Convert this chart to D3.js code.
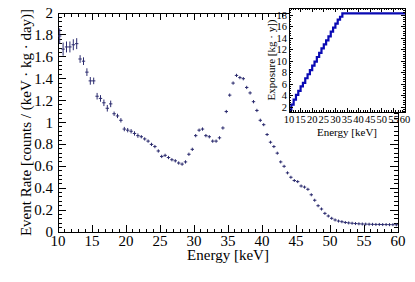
<!DOCTYPE html>
<html><head><meta charset="utf-8">
<script src="https://cdn.jsdelivr.net/npm/d3@7"></script>
<style>body{margin:0;background:#fff}svg{display:block}text{font-family:"Liberation Serif","Times New Roman",serif;fill:#000}</style>
</head><body><svg id="c" width="415" height="282"></svg>
<script>
// ---- main spectrum: 0.5 keV bins ----
const energy = [10.25,10.75,11.25,11.75,12.25,12.75,13.25,13.75,14.25,14.75,
15.25,15.75,16.25,16.75,17.25,17.75,18.25,18.75,19.25,19.75,
20.25,20.75,21.25,21.75,22.25,22.75,23.25,23.75,24.25,24.75,
25.25,25.75,26.25,26.75,27.25,27.75,28.25,28.75,29.25,29.75,
30.25,30.75,31.25,31.75,32.25,32.75,33.25,33.75,34.25,34.75,
35.25,35.75,36.25,36.75,37.25,37.75,38.25,38.75,39.25,39.75,
40.25,40.75,41.25,41.75,42.25,42.75,43.25,43.75,44.25,44.75,
45.25,45.75,46.25,46.75,47.25,47.75,48.25,48.75,49.25,49.75,
50.25,50.75,51.25,51.75,52.25,52.75,53.25,53.75,54.25,54.75,
55.25,55.75,56.25,56.75,57.25,57.75,58.25,58.75,59.25,59.75];
const rate = [1.79,1.67,1.69,1.69,1.71,1.72,1.58,1.56,1.46,1.38,
1.38,1.24,1.22,1.18,1.13,1.17,1.08,1.06,1.02,0.94,
0.93,0.92,0.90,0.88,0.87,0.85,0.83,0.80,0.78,0.74,
0.69,0.70,0.68,0.66,0.65,0.63,0.62,0.64,0.71,0.755,
0.88,0.93,0.94,0.88,0.87,0.83,0.83,0.86,0.95,1.10,
1.25,1.36,1.43,1.41,1.40,1.32,1.27,1.19,1.11,1.02,
0.98,0.89,0.82,0.78,0.72,0.64,0.60,0.54,0.50,0.47,
0.46,0.42,0.41,0.39,0.34,0.29,0.24,0.21,0.17,0.146,
0.125,0.11,0.10,0.094,0.087,0.083,0.080,0.077,0.075,0.073,
0.072,0.071,0.070,0.069,0.069,0.068,0.068,0.067,0.067,0.066];
const rateErr = [0.07,0.06,0.05,0.05,0.05,0.05,0.035,0.035,0.035,0.035,
0.03,0.03,0.03,0.03,0.03,0.03,0.02,0.02,0.02,0.02,
0.02,0.02,0.02,0.02,0.015,0.015,0.015,0.015,0.015,0.015,
0.015,0.015,0.015,0.015,0.015,0.015,0.015,0.015,0.015,0.015,
0.015,0.015,0.015,0.015,0.015,0.015,0.015,0.015,0.015,0.015,
0.015,0.015,0.015,0.015,0.015,0.015,0.015,0.015,0.015,0.015,
0.01,0.01,0.01,0.01,0.01,0.01,0.01,0.01,0.01,0.01,
0.01,0.01,0.01,0.01,0.01,0.01,0.01,0.01,0.01,0.01,
0.004,0.004,0.004,0.004,0.004,0.004,0.004,0.004,0.004,0.004,
0.004,0.004,0.004,0.004,0.004,0.004,0.004,0.004,0.004,0.004];
const binHalf = 0.25;
const xTicks = [10,15,20,25,30,35,40,45,50,55,60];
const yTicks = [0,0.2,0.4,0.6,0.8,1,1.2,1.4,1.6,1.8,2];
const yTickLabels = ["0","0.2","0.4","0.6","0.8","1","1.2","1.4","1.6","1.8","2"];

// ---- inset: cumulative exposure, 1 keV bins ----
const expLow = [10,11,12,13,14,15,16,17,18,19,20,21,22,23,24,25,26,27,28,29,30,31,32,33,34,35,36,37,38,39,40,41,42,43,44,45,46,47,48,49,50,51,52,53,54,55,56,57,58,59];
const exposure = [1.5,2.4,3.3,4.1,4.8,5.6,6.2,7.0,7.7,8.4,9.2,9.9,10.7,11.4,12.2,12.9,13.6,14.3,15.1,15.8,16.5,17.2,17.7,18.3,18.3,18.3,18.3,18.3,18.3,18.3,18.3,18.3,18.3,18.3,18.3,18.3,18.3,18.3,18.3,18.3,18.3,18.3,18.3,18.3,18.3,18.3,18.3,18.3,18.3,18.3];
const insetXTicks = [10,15,20,25,30,35,40,45,50,55,60];
const insetYTicks = [2,4,6,8,10,12,14,16,18];

const svg = d3.select("#c");
const M = {l:58, r:398, t:13, b:232};
const x = d3.scaleLinear().domain([10,60]).range([M.l, M.r]);
const y = d3.scaleLinear().domain([0,2]).range([M.b, M.t]);
const dataColor = "#2b2b6e";

function frameTicks(g, xs, ys, box, xMaj, xMin, yMaj, yMin, yBase, xLen, yLen) {
  const xd = xs.domain(), yd = ys.domain();
  const minorX = d3.range(xd[0], xd[1] + 1e-9, xMin);
  const y0 = Math.ceil((yd[0] - yBase) / yMin - 1e-9) * yMin + yBase;
  const minorY = d3.range(y0, yd[1] + 1e-9, yMin);
  const isMaj = (v, step, base) => Math.abs(((v - base) / step) - Math.round((v - base) / step)) < 1e-6;
  minorX.forEach(v => {
    const L = isMaj(v, xMaj, xd[0]) ? xLen[0] : xLen[1];
    const px = xs(v);
    g.append("line").attr("x1", px).attr("x2", px).attr("y1", box.b).attr("y2", box.b - L);
    g.append("line").attr("x1", px).attr("x2", px).attr("y1", box.t).attr("y2", box.t + L);
  });
  minorY.forEach(v => {
    const L = isMaj(v, yMaj, yBase) ? yLen[0] : yLen[1];
    const py = ys(v);
    g.append("line").attr("x1", box.l).attr("x2", box.l + L).attr("y1", py).attr("y2", py);
    g.append("line").attr("x1", box.r).attr("x2", box.r - L).attr("y1", py).attr("y2", py);
  });
  g.selectAll("line").attr("stroke", "#000").attr("stroke-width", 1).attr("shape-rendering", "crispEdges");
  g.append("rect").attr("x", box.l).attr("y", box.t).attr("width", box.r - box.l).attr("height", box.b - box.t)
    .attr("fill", "none").attr("stroke", "#000").attr("stroke-width", 1).attr("shape-rendering", "crispEdges");
}

// main frame + ticks
frameTicks(svg.append("g"), x, y, M, 5, 1, 0.2, 0.04, 0, [7,3.5], [8,4]);

// main tick labels
svg.append("g").selectAll("text").data(xTicks).join("text")
  .attr("x", d => x(d)).attr("y", 245.5).attr("text-anchor", "middle")
  .attr("font-size", 15).text(d => d);
svg.append("g").selectAll("text").data(yTicks).join("text")
  .attr("x", 53).attr("y", d => y(d) + 5).attr("text-anchor", "end")
  .attr("font-size", 15).text((d, i) => yTickLabels[i]);

// axis titles
svg.append("text").attr("x", (M.l + M.r) / 2).attr("y", 260).attr("text-anchor", "middle")
  .attr("font-size", 15).text("Energy [keV]");
svg.append("text").attr("transform", `translate(31,${(M.t + M.b) / 2}) rotate(-90)`)
  .attr("text-anchor", "middle").attr("font-size", 15)
  .text("Event Rate [counts / (keV \u00b7 kg \u00b7 day)]");

// data points with error bars
const pts = svg.append("g").attr("stroke", dataColor).attr("stroke-width", 1);
energy.forEach((e, i) => {
  const cx = x(e), cy = y(rate[i]);
  const dy = Math.max(Math.abs(y(rate[i] + rateErr[i]) - cy), 1.5);
  pts.append("line").attr("x1", x(e - binHalf)).attr("x2", x(e + binHalf)).attr("y1", cy).attr("y2", cy);
  pts.append("line").attr("x1", cx).attr("x2", cx).attr("y1", cy - dy).attr("y2", cy + dy);
});

// ---- inset ----
const I = {l:289, r:405, t:8, b:112};
const ix = d3.scaleLinear().domain([10,60]).range([I.l, I.r]);
const iy = d3.scaleLinear().domain([2 - 5/5.75, 18 + 7/5.75]).range([I.b, I.t]);
const ig = svg.append("g");
ig.append("rect").attr("x", I.l).attr("y", I.t).attr("width", I.r - I.l).attr("height", I.b - I.t).attr("fill", "#fff");

// step line
const stepPts = [];
expLow.forEach((lo, i) => {
  stepPts.push([ix(lo), iy(exposure[i])]);
  stepPts.push([ix(lo + 1), iy(exposure[i])]);
});
ig.append("path").attr("d", d3.line()(stepPts)).attr("fill", "none")
  .attr("stroke", "#0a0ab4").attr("stroke-width", 2.2);

frameTicks(ig.append("g"), ix, iy, I, 5, 1, 2, 0.4, 0, [4,2], [4,2]);

ig.append("g").selectAll("text").data(insetXTicks).join("text")
  .attr("x", d => ix(d)).attr("y", 122.5).attr("text-anchor", "middle")
  .attr("font-size", 10.5).text(d => d);
ig.append("g").selectAll("text").data(insetYTicks).join("text")
  .attr("x", 287).attr("y", d => iy(d) + 3.8).attr("text-anchor", "end")
  .attr("font-size", 10.5).text(d => d);
ig.append("text").attr("x", (I.l + I.r) / 2).attr("y", 136).attr("text-anchor", "middle")
  .attr("font-size", 11).text("Energy [keV]");
ig.append("text").attr("transform", `translate(275,${(I.t + I.b) / 2}) rotate(-90)`)
  .attr("text-anchor", "middle").attr("font-size", 11).text("Exposure [kg \u00b7 y])");
</script></body></html>
